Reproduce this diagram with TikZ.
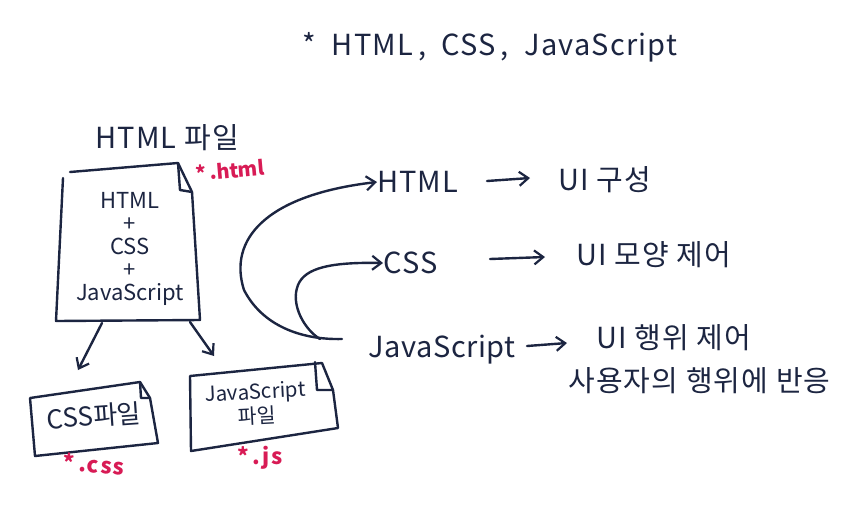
\documentclass[tikz,border=0pt]{standalone}
\usepackage{fontspec}
\setmainfont{Noto Sans CJK KR}
\usetikzlibrary{arrows.meta}
\definecolor{ink}{HTML}{1C2541}
\definecolor{pen}{HTML}{D81B55}
\tikzset{
  stroke/.style={draw=ink, line width=2.4pt, line cap=round, line join=round},
  arr/.style={stroke, -{Straight Barb[length=9pt,width=14pt,line width=2.2pt]}},
  txt/.style={text=ink, inner sep=0pt, font=\fontsize{26}{30}\selectfont},
  big/.style={text=ink, inner sep=0pt, font=\fontsize{29}{32}\selectfont\addfontfeatures{LetterSpace=4}},
  ext/.style={text=pen, inner sep=0pt, font=\bfseries\fontsize{20}{22}\selectfont},
}
\begin{document}
\begin{tikzpicture}[x=1pt,y=-1pt]
\useasboundingbox[fill=white] (0,0) rectangle (848,507);

% title
\node[big] (title) at (490,47) {*\; HTML\,,\; CSS\,,\; JavaScript};

% HTML file
\node[big] (htmlfile) at (167,138) {HTML 파일};
\draw[stroke] (70,172) -- (178,163) -- (192,192) -- (200,320) -- (56,321) -- (63,178);
\draw[stroke] (178,163) -- (180,190) -- (192,192);
\node[txt, align=center, font=\fontsize{22}{26}\selectfont] (htmlbox) at (130,249)
  {HTML\\[-3pt]+\\[-3pt]CSS\\[-3pt]+\\[-3pt]JavaScript};
\node[ext, rotate=5] (exthtml) at (230,170) {*\,.html};
\coordinate (h1) at (102,323);
\coordinate (h2) at (190,322);

% CSS file
\draw[stroke] (30,398) -- (140,382) -- (150,398) -- (158,443) -- (35,456) -- (30,398);
\draw[stroke] (140,382) -- (141,398) -- (150,398);
\node[txt, rotate=4] (cssfile) at (94,416) {CSS파일};
\node[ext, rotate=-4, font=\bfseries\fontsize{22}{24}\selectfont\addfontfeatures{LetterSpace=6}] (extcss) at (94,464) {*\,.css};

% JS file
\draw[stroke] (190,376) -- (322,363) -- (333,390) -- (338,428) -- (191,451) -- (190,376);
\draw[stroke] (315,362) -- (317,390) -- (333,390);
\node[txt, align=center, font=\fontsize{20.5}{24}\selectfont, rotate=3] (jsfile) at (256,404) {JavaScript\\파일};
\node[ext, font=\bfseries\fontsize{22}{24}\selectfont\addfontfeatures{LetterSpace=6}] (extjs) at (260,458) {*\,.js};

\draw[arr] (h1) -- (78,370);
\draw[arr] (h2) -- (214,356);

% right side
\node[big, anchor=west] (html) at (377,182) {HTML};
\node[big, anchor=west] (css) at (383,263) {CSS};
\node[big, anchor=west, font=\fontsize{29}{32}\selectfont\addfontfeatures{LetterSpace=2}] (js) at (368,350) {JavaScript};
\node[big, anchor=west] (ui1) at (558,180) {UI 구성};
\node[big, anchor=west] (ui2) at (576,255) {UI 모양 제어};
\node[big, anchor=west] (ui3) at (596,338) {UI 행위 제어};
\node[big, anchor=west] (ui4) at (568,381) {사용자의 행위에 반응};

\draw[arr] (487,181) -- (530,178);
\draw[arr] (490,259) -- (545,257);
\draw[arr] (527,346) -- (567,343);

\draw[arr] (342,339) .. controls (300,340) and (262,325) .. (244,290)
  .. controls (228,240) and (265,195) .. (html.west);
\draw[arr] (320,339) .. controls (305,330) and (290,305) .. (298,285)
  .. controls (305,268) and (330,262) .. (css.west);
\end{tikzpicture}
\end{document}
